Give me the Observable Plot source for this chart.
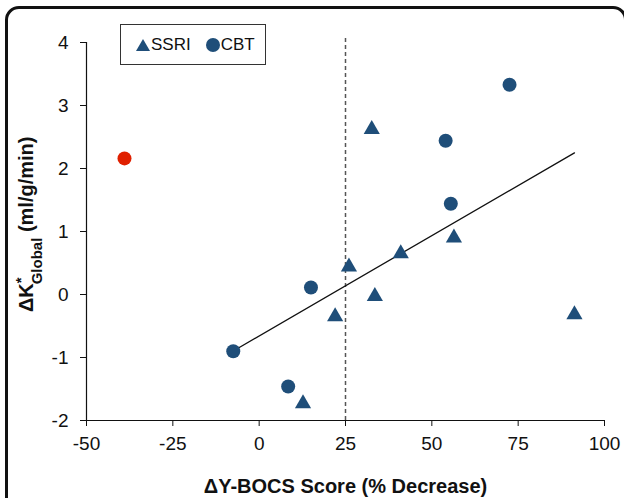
<!DOCTYPE html>
<html>
<head>
<meta charset="utf-8">
<script src="https://cdn.jsdelivr.net/npm/d3@7"></script>
<script src="https://cdn.jsdelivr.net/npm/@observablehq/plot@0.6"></script>
<style>
  html, body { margin: 0; padding: 0; background: #fff; overflow: hidden; }
  #wrap { position: relative; width: 624px; height: 498px; font-family: "Liberation Sans", Arial, sans-serif; }
  #frame { position: absolute; left: 5px; top: 6px; width: 622px; height: 520px; border: 3px solid #111; border-radius: 14px; box-sizing: border-box; pointer-events: none; }
  #legend { position: absolute; left: 120px; top: 24px; width: 146px; height: 41px; border: 1.5px solid #333; box-sizing: border-box; background: #fff; display: flex; align-items: center; font-size: 17px; color: #111; }
  #legend .item { display: flex; align-items: center; }
  #legend svg { display: block; }
</style>
</head>
<body>
<div id="wrap">
  <div id="chart"></div>
  <div id="legend"></div>
  <div id="frame"></div>
</div>
<script>
// Data
const cbtX = [72.5, 54, 55.5, 15, -7.5, 8.4];
const cbtY = [3.33, 2.44, 1.44, 0.11, -0.9, -1.46];
const ssriX = [32.6, 12.7, 26, 22, 33.5, 41, 91.3, 56.4];
const ssriY = [2.62, -1.73, 0.44, -0.35, -0.03, 0.65, -0.32, 0.9];
const outlierX = [-39];
const outlierY = [2.16];
const xTicks = [-50, -25, 0, 25, 50, 75, 100];
const yTicks = [-2, -1, 0, 1, 2, 3, 4];
const cutoff = [25];
const groups = ["SSRI", "CBT"];

const blue = "#1f4e79";
const red = "#e02000";

const cbt = cbtX.map((x, i) => ({x, y: cbtY[i], g: "CBT"}));
const ssri = ssriX.map((x, i) => ({x, y: ssriY[i], g: "SSRI"}));
const outlier = outlierX.map((x, i) => ({x, y: outlierY[i]}));
const blueAll = [...cbt, ...ssri];

const chart = Plot.plot({
  width: 624,
  height: 498,
  marginLeft: 86,
  marginRight: 20,
  marginTop: 42,
  marginBottom: 78,
  style: {fontFamily: "Liberation Sans, Arial, sans-serif", fontSize: "19px", color: "#111", background: "transparent"},
  x: {domain: [-50, 100], ticks: xTicks, label: null},
  y: {domain: [-2, 4], ticks: yTicks, label: null},
  marks: [
    Plot.ruleX(cutoff, {y1: -2, y2: 4.07, stroke: "#555", strokeWidth: 1.5, strokeDasharray: "4,3"}),
    Plot.linearRegressionY(blueAll, {x: "x", y: "y", ci: 0, stroke: "#111", strokeWidth: 1.3}),
    Plot.dot(cbt, {x: "x", y: "y", r: 7, fill: blue, symbol: "circle"}),
    Plot.dot(ssri, {x: "x", y: "y", r: 6, fill: blue, symbol: "triangle"}),
    Plot.dot(outlier, {x: "x", y: "y", r: 7, fill: red, symbol: "circle"}),
    Plot.ruleY([-2], {stroke: "#111", strokeWidth: 1.2}),
    Plot.ruleX([-50], {stroke: "#111", strokeWidth: 1.2}),
    Plot.axisX({ticks: xTicks, tickSize: 6, tickPadding: 10, tickFormat: d => String(d), label: null, fontSize: 19}),
    Plot.axisY({ticks: yTicks, tickSize: 6, tickPadding: 12, tickFormat: d => String(d), label: null, fontSize: 19}),
    Plot.text(["ΔY-BOCS Score (% Decrease)"], {frameAnchor: "bottom", dy: 72, lineAnchor: "bottom", text: d => d, fontSize: 20, fontWeight: "bold", fill: "#111"})
  ]
});
document.getElementById("chart").appendChild(chart);

// Y-axis title with subscript
const svg = d3.select(chart);
const yt = svg.append("text")
  .attr("transform", "translate(33,312) rotate(-90)")
  .attr("text-anchor", "start")
  .attr("font-family", "Liberation Sans, Arial, sans-serif")
  .attr("font-weight", "bold")
  .attr("font-size", 20)
  .attr("fill", "#111");
yt.append("tspan").text("ΔK");
yt.append("tspan").attr("font-size", 15).attr("dy", -7).text("*");
yt.append("tspan").attr("font-size", 15).attr("dy", 16).attr("dx", -7).text("Global");
yt.append("tspan").attr("dy", -9).text(" (ml/g/min)");

// Legend
const leg = d3.select("#legend");
groups.forEach((g, i) => {
  const item = leg.append("div").attr("class", "item").style("margin-left", "14px");
  const s = item.append("svg").attr("width", 16).attr("height", 16);
  if (g === "SSRI") {
    s.append("path").attr("d", "M8,2 L15,14 L1,14 Z").attr("fill", blue);
  } else {
    s.append("circle").attr("cx", 8).attr("cy", 8).attr("r", 7).attr("fill", blue);
  }
  item.append("span").text(g);
});
</script>
</body>
</html>
